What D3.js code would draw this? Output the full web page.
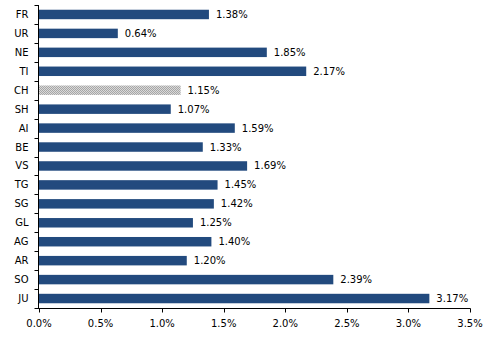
<!DOCTYPE html>
<html><head><meta charset="utf-8">
<script src="https://cdn.jsdelivr.net/npm/d3@7"></script>
<style>body{margin:0;background:#fff}svg text{font-family:"DejaVu Sans",sans-serif;font-size:10px;fill:#000}</style>
</head><body>
<script>
const categories = ["FR","UR","NE","TI","CH","SH","AI","BE","VS","TG","SG","GL","AG","AR","SO","JU"];
const values = [1.38,0.64,1.85,2.17,1.15,1.07,1.59,1.33,1.69,1.45,1.42,1.25,1.40,1.20,2.39,3.17];
const highlight = ["CH"];
const xTicks = [0,0.5,1.0,1.5,2.0,2.5,3.0,3.5];

const W=491,H=340;
const svg=d3.select("body").append("svg").attr("width",W).attr("height",H);
const defs=svg.append("defs");
const pat=defs.append("pattern").attr("id","dots").attr("width",2).attr("height",2).attr("patternUnits","userSpaceOnUse");
pat.append("rect").attr("width",2).attr("height",2).attr("fill","#d9d9d9");
pat.append("rect").attr("width",1).attr("height",1).attr("fill","#a6a6a6");
pat.append("rect").attr("x",1).attr("y",1).attr("width",1).attr("height",1).attr("fill","#a6a6a6");

const x=d3.scaleLinear().domain([0,3.5]).range([39,470]);
const y=d3.scaleBand().domain(categories).range([5,308]).paddingInner(0.5).paddingOuter(0.25);

svg.selectAll("rect.bar").data(categories).join("rect").attr("class","bar")
  .attr("x",x(0)).attr("y",d=>y(d)).attr("height",y.bandwidth())
  .attr("width",(d,i)=>x(values[i])-x(0))
  .attr("fill",d=>highlight.includes(d)?"url(#dots)":"#224A7E");

svg.selectAll("text.val").data(categories).join("text").attr("class","val")
  .attr("x",(d,i)=>x(values[i])+7).attr("y",d=>y(d)+y.bandwidth()/2).attr("dy","0.35em")
  .text((d,i)=>values[i].toFixed(2)+"%");

// y axis
const yA=svg.append("g").attr("transform","translate(38.5,0)");
yA.append("line").attr("x1",0).attr("x2",0).attr("y1",5).attr("y2",308).attr("stroke","#000");
const step=y.step();
const bounds=d3.range(categories.length+1).map(i=>5+i*(303/categories.length));
yA.selectAll("line.t").data(bounds).join("line").attr("class","t")
  .attr("x1",-4).attr("x2",0).attr("y1",d=>Math.round(d)+0.5).attr("y2",d=>Math.round(d)+0.5).attr("stroke","#000");
yA.selectAll("text").data(categories).join("text")
  .attr("x",-10).attr("y",d=>y(d)+y.bandwidth()/2).attr("dy","0.35em").attr("text-anchor","end").text(d=>d);

// x axis
const xA=svg.append("g").attr("transform","translate(0,308.5)");
xA.append("line").attr("x1",38).attr("x2",x(3.5)+0.5).attr("y1",0).attr("y2",0).attr("stroke","#000");
xA.selectAll("line.t").data(xTicks).join("line").attr("class","t")
  .attr("x1",d=>Math.round(x(d))+0.5).attr("x2",d=>Math.round(x(d))+0.5).attr("y1",0).attr("y2",4).attr("stroke","#000");
xA.selectAll("text").data(xTicks).join("text")
  .attr("x",d=>x(d)).attr("y",18).attr("text-anchor","middle").text(d=>d.toFixed(1)+"%");
</script>
</body></html>
